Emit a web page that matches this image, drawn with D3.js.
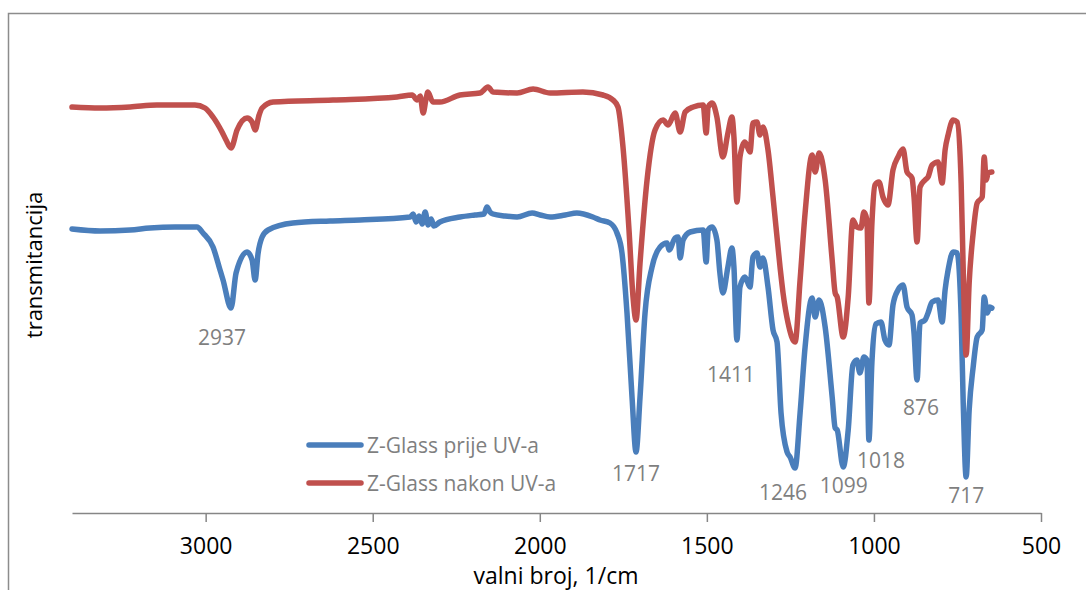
<!DOCTYPE html>
<html><head><meta charset="utf-8">
<script src="https://cdn.jsdelivr.net/npm/d3@7/dist/d3.min.js"></script>
<style>
html,body{margin:0;padding:0;background:#fff;}
svg{display:block;}
text{font-family:"Open Sans",sans-serif;}
</style></head>
<body>
<svg id="chart" width="1086" height="590"></svg>
<script>
// Wavenumber (1/cm) and transmittance (arbitrary %, offset per curve)
const blueWn = [3400,3316,3226,3167,3092,3026,3008,2978,2957,2948,2924,2909,2876,2861,2852,2843,2831,2813,2739,2628,2538,2388,2379,2370,2361,2352,2343,2334,2325,2317,2299,2239,2194,2167,2158,2149,2140,2104,2068,2023,1999,1969,1924,1889,1841,1820,1790,1769,1754,1739,1724,1712,1700,1685,1664,1640,1619,1613,1595,1586,1580,1571,1550,1511,1502,1496,1484,1470,1461,1452,1437,1425,1419,1410,1401,1386,1371,1362,1350,1341,1332,1317,1302,1290,1278,1260,1251,1236,1221,1206,1185,1176,1164,1146,1125,1116,1110,1092,1077,1063,1051,1042,1030,1021,1015,1006,994,979,967,955,943,928,913,901,886,880,871,862,847,838,826,808,796,787,778,763,751,739,733,724,715,703,691,676,670,661,653,647];
const blueT = [56.8,56.4,56.6,57.0,57.2,57.2,56.0,53.2,48.6,46.6,41.0,48.0,52.2,50.6,46.6,52.0,55.2,56.6,58.0,58.4,58.6,59.2,59.8,58.2,59.4,57.8,60.2,57.6,58.8,57.4,58.2,59.2,59.6,59.8,61.2,60.2,59.8,59.4,59.2,60.0,59.6,59.2,59.6,60.0,59.2,58.6,58.0,56.0,52.0,40.0,23.2,12.2,23.2,40.0,49.2,53.2,54.0,52.6,55.0,55.2,51.0,54.6,56.2,56.6,50.2,56.6,57.2,54.6,48.0,44.0,49.2,53.0,49.2,34.6,45.2,47.2,45.2,51.2,52.0,49.2,51.0,45.2,36.6,34.2,20.0,12.2,11.2,9.0,20.0,33.2,43.0,39.2,42.6,37.2,23.2,17.0,16.6,9.2,16.6,29.6,30.6,28.0,31.2,30.6,14.6,30.2,37.8,38.2,34.6,33.6,41.6,44.6,45.6,41.2,39.6,36.0,26.6,38.0,38.6,40.0,42.2,42.6,38.2,44.6,48.6,52.2,52.0,39.2,22.6,7.2,20.6,29.2,35.2,36.6,43.2,40.0,41.2,41.0];

const redWn = [3400,3316,3226,3146,3032,3002,2978,2951,2939,2924,2906,2876,2861,2852,2840,2831,2798,2619,2427,2382,2367,2358,2349,2341,2335,2320,2299,2239,2179,2155,2140,2068,2020,1969,1871,1811,1781,1766,1751,1733,1721,1712,1700,1679,1655,1631,1616,1595,1580,1565,1541,1511,1502,1496,1484,1470,1452,1437,1425,1419,1410,1401,1386,1371,1362,1350,1341,1332,1317,1302,1281,1272,1257,1236,1221,1206,1185,1176,1164,1146,1125,1116,1110,1092,1077,1063,1051,1039,1030,1021,1015,1006,997,985,973,958,943,928,913,901,886,880,871,862,847,838,826,808,796,787,778,763,751,739,733,724,715,703,691,676,670,664,658,647];
const redT = [81.2,81.0,81.2,81.6,81.6,81.0,79.2,76.2,74.6,73.0,76.6,79.0,78.2,76.6,79.6,81.0,82.2,82.6,83.2,83.6,82.6,83.4,80.0,82.6,84.2,82.2,82.2,83.6,84.0,85.2,84.2,84.0,84.8,84.0,84.2,83.6,82.6,81.2,73.2,56.6,43.2,38.6,50.0,66.6,76.6,78.6,77.6,80.0,76.2,80.2,81.2,81.6,76.0,81.2,82.0,79.2,71.2,76.0,79.2,75.2,62.2,71.2,74.2,72.2,78.0,78.2,75.6,77.2,72.6,63.2,49.2,44.0,38.0,34.2,46.6,60.0,71.6,68.2,72.0,66.6,50.6,44.0,43.2,35.2,43.2,58.6,57.2,57.0,60.2,58.6,42.0,58.0,65.6,66.2,63.2,61.6,68.6,71.2,72.8,68.2,67.0,63.2,54.2,65.2,66.6,67.2,69.6,70.2,66.0,72.6,75.6,78.6,78.2,66.0,49.2,31.6,46.0,56.0,62.0,63.2,71.2,66.6,68.0,68.2];

const seriesNames = ["Z-Glass prije UV-a","Z-Glass nakon UV-a"];
const seriesColors = ["#4a7ebb","#c0504d"];
const xTicks = [3000,2500,2000,1500,1000,500];

// Peak annotations: label text, and label centre position in data units
const peakLabels = ["2937","1717","1411","1246","1099","1018","876","717"];
const peakLabelWn = [2951,1712,1428,1272,1090,979,859,724];
const peakLabelT  = [33.6,6.4,26.2,2.6,4.0,9.0,19.6,2.0];

const svg = d3.select("#chart");

// outer frame
svg.append("rect").attr("x",8.5).attr("y",13.5).attr("width",1200).attr("height",700)
  .attr("fill","none").attr("stroke","#8c8c8c").attr("stroke-width",1.5);

const x = d3.scaleLinear().domain([3400,500]).range([72,1041]);
const y = d3.scaleLinear().domain([0,100]).range([513,13]);

const line = d3.line().x(d=>x(d[0])).y(d=>y(d[1])).curve(d3.curveMonotoneX);

const blue = blueWn.map((w,i)=>[w,blueT[i]]);
const red = redWn.map((w,i)=>[w,redT[i]]);

[blue, red].forEach((data,i)=>{
  svg.append("path").datum(data).attr("d",line).attr("fill","none")
    .attr("stroke",seriesColors[i]).attr("stroke-width",5.5)
    .attr("stroke-linejoin","round").attr("stroke-linecap","round");
});

// x axis
const xAxis = d3.axisBottom(x).tickValues(xTicks).tickFormat(d3.format("d"))
  .tickSize(9).tickSizeOuter(0).tickPadding(16);
const gx = svg.append("g").attr("transform",`translate(0,${y(0)})`).call(xAxis);
gx.select(".domain").attr("stroke","#868686").attr("stroke-width",1.5);
gx.selectAll(".tick line").attr("stroke","#868686").attr("stroke-width",1.5);
gx.selectAll(".tick text").attr("fill","#000").attr("font-size",23).attr("font-family","Open Sans, sans-serif");

svg.append("text").attr("x",556).attr("y",584).attr("text-anchor","middle")
  .attr("font-size",23).attr("fill","#000").text("valni broj, 1/cm");
svg.append("text").attr("transform","translate(42,265) rotate(-90)").attr("text-anchor","middle")
  .attr("font-size",22).attr("fill","#000").text("transmitancija");

// peak labels
svg.append("g").selectAll("text").data(peakLabels).join("text")
  .attr("x",(d,i)=>x(peakLabelWn[i])).attr("y",(d,i)=>y(peakLabelT[i]))
  .attr("text-anchor","middle").attr("font-size",21).attr("fill","#7f7f7f").text(d=>d);

// legend
const leg = svg.append("g");
seriesNames.forEach((n,i)=>{
  const yy = 445 + i*38;
  leg.append("line").attr("x1",309).attr("x2",361).attr("y1",yy).attr("y2",yy)
    .attr("stroke",seriesColors[i]).attr("stroke-width",5.5).attr("stroke-linecap","round");
  leg.append("text").attr("x",367).attr("y",yy+8).attr("font-size",21).attr("fill","#7f7f7f").text(n);
});
</script>
</body></html>
